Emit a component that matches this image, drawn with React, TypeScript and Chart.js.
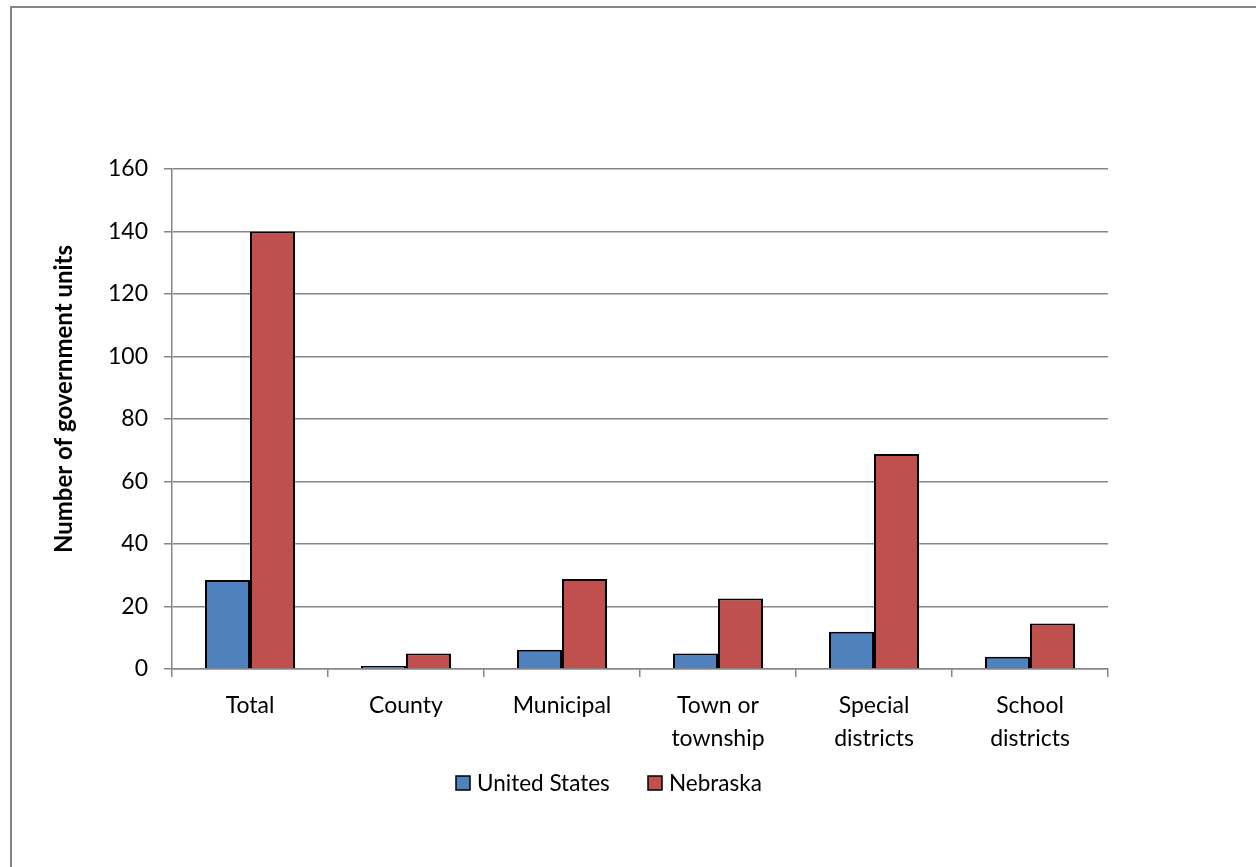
import React, { useEffect, useRef } from "react";
import { Chart, registerables } from "chart.js";

Chart.register(...registerables);

const categories: (string | string[])[] = [
  "Total",
  "County",
  "Municipal",
  ["Town or", "township"],
  ["Special", "districts"],
  ["School", "districts"],
];
const unitedStates = [28.5, 1.0, 6.2, 5.0, 11.9, 3.9];
const nebraska = [140, 5.0, 28.8, 22.6, 68.8, 14.6];
const yTicks = [0, 20, 40, 60, 80, 100, 120, 140, 160];
const yTitle = "Number of government units";
const seriesNames = ["United States", "Nebraska"];
const seriesColors = ["#4F81BD", "#C0504D"];

const FONT = "Lato, 'Open Sans', sans-serif";

const frame = {
  id: "frame",
  beforeDraw(chart: any) {
    const ctx = chart.ctx;
    ctx.save();
    ctx.fillStyle = "#ffffff";
    ctx.fillRect(0, 0, chart.width, chart.height);
    ctx.strokeStyle = "#868686";
    ctx.lineWidth = 2;
    ctx.strokeRect(11, 7, chart.width + 20, chart.height + 20);
    ctx.restore();
  },
};

const axisTitle = {
  id: "axisTitle",
  afterDraw(chart: any) {
    const ctx = chart.ctx;
    ctx.save();
    ctx.translate(64, 399);
    ctx.rotate(-Math.PI / 2);
    ctx.font = `bold 24px ${FONT}`;
    ctx.fillStyle = "#000";
    ctx.textAlign = "center";
    ctx.textBaseline = "middle";
    ctx.fillText(yTitle, 0, 0);
    ctx.restore();
  },
};

const customLegend = {
  id: "customLegend",
  afterDraw(chart: any) {
    const ctx = chart.ctx;
    ctx.save();
    ctx.font = `22.5px ${FONT}`;
    ctx.textBaseline = "middle";
    const y = 783;
    const xs = [456, 648];
    chart.data.datasets.forEach((ds: any, i: number) => {
      const x = xs[i];
      ctx.fillStyle = ds.backgroundColor;
      ctx.fillRect(x, y - 7, 14, 14);
      ctx.strokeStyle = "#000";
      ctx.lineWidth = 1.5;
      ctx.strokeRect(x, y - 7, 14, 14);
      ctx.fillStyle = "#000";
      ctx.fillText(ds.label, x + 21, y + 1);
    });
    ctx.restore();
  },
};

export default function App() {
  const ref = useRef<HTMLCanvasElement>(null);
  useEffect(() => {
    if (!ref.current) return;
    const chart = new Chart(ref.current, {
      type: "bar",
      data: {
        labels: categories,
        datasets: [
          {
            label: seriesNames[0],
            data: unitedStates,
            backgroundColor: seriesColors[0],
            borderColor: "#000",
            borderWidth: 2,
            barPercentage: 1,
            categoryPercentage: 90 / 156,
          },
          {
            label: seriesNames[1],
            data: nebraska,
            backgroundColor: seriesColors[1],
            borderColor: "#000",
            borderWidth: 2,
            barPercentage: 1,
            categoryPercentage: 90 / 156,
          },
        ],
      },
      options: {
        animation: false,
        responsive: false,
        maintainAspectRatio: false,
        layout: { padding: { left: 0, top: 169, right: 148, bottom: 0 } },
        plugins: {
          legend: { display: false },
          tooltip: { enabled: false },
        },
        scales: {
          x: {
            grid: {
              display: true,
              offset: true,
              drawOnChartArea: false,
              drawTicks: true,
              tickLength: 8,
              color: "#868686",
              lineWidth: 1.5,
            },
            border: { display: true, color: "#868686", width: 1.5 },
            ticks: {
              color: "#000",
              font: { family: FONT, size: 23, lineHeight: 1.45 },
              padding: 12,
              maxRotation: 0,
              autoSkip: false,
            },
            afterFit(scale: any) {
              scale.height = 867 - 669;
            },
          },
          y: {
            min: 0,
            max: 160,
            afterBuildTicks(scale: any) {
              scale.ticks = yTicks.map((v) => ({ value: v }));
            },
            grid: {
              color: "#868686",
              lineWidth: 1.5,
              tickLength: 8,
            },
            border: { display: true, color: "#868686", width: 1.5 },
            ticks: {
              color: "#000",
              font: { family: FONT, size: 23 },
              padding: 16,
            },
            title: { display: false },
            afterFit(scale: any) {
              scale.width = 172;
            },
          },
        },
      },
      plugins: [frame, axisTitle, customLegend],
    });
    return () => chart.destroy();
  }, []);
  return (
    <div style={{ position: "fixed", left: 0, top: 0, width: 1256, height: 867 }}>
      <canvas ref={ref} width={1256} height={867} style={{ display: "block" }} />
    </div>
  );
}
